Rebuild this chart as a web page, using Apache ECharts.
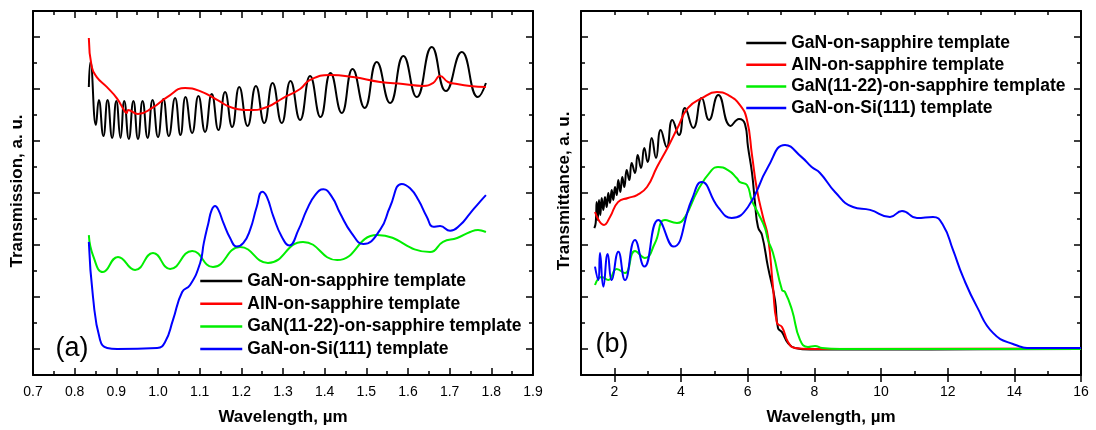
<!DOCTYPE html>
<html>
<head>
<meta charset="utf-8">
<script src="https://cdn.jsdelivr.net/npm/echarts@6/dist/echarts.min.js"></script>
<style>
  html, body { margin: 0; padding: 0; background: #fff; }
  #chart { width: 1096px; height: 430px; }
</style>
</head>
<body>
<div id="chart"></div>
<script>
// ---------- data ----------
const seriesNames = ['GaN-on-sapphire template', 'AlN-on-sapphire template', 'GaN(11-22)-on-sapphire template', 'GaN-on-Si(111) template'];
const seriesColors = ['#000000', '#ff0000', '#00ee00', '#0000ff'];

// panel (a): [wavelength µm, transmission a.u.]
const aGaNSapphire = [[0.834,11.08],[0.838,12.04],[0.851,9.62],[0.858,10.58],[0.869,9.19],[0.879,10.58],[0.890,9.12],[0.900,10.54],[0.910,9.12],[0.919,10.54],[0.930,9.08],[0.941,10.54],[0.952,9.08],[0.963,10.54],[0.975,9.12],[0.987,10.58],[1.000,9.15],[1.013,10.62],[1.026,9.19],[1.041,10.65],[1.054,9.23],[1.066,10.69],[1.082,9.31],[1.097,10.73],[1.113,9.35],[1.129,10.81],[1.145,9.42],[1.161,10.88],[1.178,9.54],[1.195,11.08],[1.215,9.58],[1.235,11.12],[1.255,9.69],[1.275,11.23],[1.297,9.69],[1.318,11.31],[1.341,9.81],[1.365,11.50],[1.390,9.92],[1.414,11.62],[1.441,10.08],[1.467,11.77],[1.496,10.27],[1.525,12.04],[1.557,10.46],[1.589,12.27],[1.621,10.69],[1.657,12.62],[1.691,10.92],[1.729,12.42],[1.768,10.69],[1.787,11.23]];
const aAlNSapphire = [[0.834,12.96],[0.841,11.85],[0.853,11.46],[0.877,11.08],[0.901,10.65],[0.921,10.12],[0.925,10.08],[0.928,10.19],[0.952,10.04],[0.986,10.27],[1.022,10.69],[1.065,11.04],[1.101,10.92],[1.142,10.58],[1.180,10.27],[1.221,10.19],[1.262,10.31],[1.300,10.65],[1.341,11.00],[1.365,11.35],[1.413,11.54],[1.468,11.46],[1.533,11.27],[1.588,11.19],[1.636,11.12],[1.660,11.23],[1.677,11.50],[1.696,11.27],[1.718,11.19],[1.749,11.12],[1.787,11.08]];
const aGaN1122 = [[0.834,5.38],[0.845,4.55],[0.868,3.96],[0.904,4.54],[0.945,4.04],[0.988,4.69],[1.029,4.08],[1.082,4.77],[1.132,4.15],[1.197,4.92],[1.264,4.31],[1.348,5.12],[1.430,4.42],[1.526,5.38],[1.653,4.73],[1.684,5.12],[1.718,5.27],[1.749,5.50],[1.768,5.58],[1.780,5.54],[1.787,5.50]];
const aGaNSi = [[0.834,5.12],[0.844,3.00],[0.861,1.35],[0.878,1.04],[0.902,1.00],[0.998,1.04],[1.017,1.27],[1.036,2.12],[1.058,3.19],[1.077,3.46],[1.101,4.30],[1.110,5.08],[1.121,5.85],[1.129,6.35],[1.137,6.50],[1.145,6.35],[1.157,5.85],[1.173,5.27],[1.189,4.94],[1.205,5.08],[1.221,5.58],[1.237,6.47],[1.250,7.05],[1.261,6.86],[1.277,6.09],[1.297,5.32],[1.315,4.98],[1.337,5.58],[1.357,6.35],[1.377,6.92],[1.397,7.14],[1.417,6.86],[1.437,6.22],[1.465,5.45],[1.493,5.04],[1.533,5.58],[1.557,6.47],[1.585,7.35],[1.605,7.18],[1.625,6.73],[1.645,6.09],[1.661,5.70],[1.677,5.73],[1.701,5.55],[1.725,5.77],[1.749,6.22],[1.773,6.67],[1.787,6.92]];

// panel (b): [wavelength µm, transmittance a.u.]
const bGaNSapphire = [[1.40,5.65],[1.441,5.85],[1.471,6.65],[1.501,5.96],[1.54,6.73],[1.579,6.15],[1.621,6.81],[1.669,6.35],[1.72,6.85],[1.771,6.46],[1.819,7.00],[1.87,6.62],[1.921,7.12],[1.969,6.73],[2.02,7.23],[2.071,6.92],[2.119,7.50],[2.179,7.04],[2.239,7.62],[2.299,7.23],[2.371,7.88],[2.449,7.50],[2.521,8.15],[2.62,7.77],[2.701,8.46],[2.80,7.96],[2.899,8.73],[3.001,8.19],[3.121,9.12],[3.25,8.35],[3.391,9.42],[3.571,8.77],[3.739,9.81],[3.94,9.23],[4.12,10.27],[4.369,9.50],[4.621,10.65],[4.84,9.81],[5.119,10.77],[5.491,9.58],[5.74,9.85],[5.92,9.65],[6.01,8.77],[6.13,7.77],[6.22,6.62],[6.31,5.69],[6.43,5.38],[6.61,4.15],[6.82,2.88],[6.91,1.81],[7.03,1.65],[7.21,1.23],[7.42,1.04],[7.87,0.98],[10,0.98],[13,0.99],[16,1.0]];
const bAlNSapphire = [[1.42,6.27],[1.69,5.77],[1.87,6.08],[2.11,6.65],[2.41,6.81],[2.68,6.92],[2.98,7.23],[3.28,8.00],[3.61,8.77],[3.91,9.54],[4.21,10.27],[4.63,10.65],[5.08,10.88],[5.41,10.77],[5.77,10.38],[5.98,9.81],[6.13,8.46],[6.28,7.12],[6.46,6.08],[6.61,5.31],[6.76,3.38],[6.88,2.00],[7.03,1.85],[7.21,1.27],[7.42,1.04],[7.87,1.0],[16,1.02]];
const bGaN1122 = [[1.42,3.46],[1.62,3.77],[1.82,3.65],[2.07,4.08],[2.32,3.92],[2.62,4.77],[2.92,4.50],[3.22,5.08],[3.52,5.96],[3.88,5.85],[4.12,6.08],[4.51,7.12],[4.92,7.88],[5.11,8.00],[5.41,7.88],[5.67,7.58],[5.77,7.42],[5.98,7.31],[6.12,6.73],[6.31,6.23],[6.52,5.65],[6.61,5.19],[6.76,4.69],[7.03,3.27],[7.12,3.19],[7.33,2.50],[7.57,1.35],[7.81,1.08],[8.02,1.12],[8.23,1.04],[8.77,1.0],[16,1.0]];
const bGaNSi = [[1.42,4.17],[1.52,3.65],[1.57,4.69],[1.67,3.40],[1.80,4.65],[1.92,3.65],[2.12,4.74],[2.32,3.65],[2.62,5.19],[2.90,4.17],[3.32,5.96],[3.77,4.94],[4.32,6.73],[4.62,7.42],[5.11,6.46],[5.52,6.04],[6.01,6.46],[6.61,8.00],[7.12,8.85],[7.62,8.38],[7.92,8.00],[8.17,7.77],[8.62,7.04],[9.16,6.46],[9.67,6.35],[10.27,6.08],[10.63,6.31],[11.08,6.04],[11.56,6.08],[11.86,5.77],[12.16,4.81],[12.46,3.77],[12.88,2.62],[13.36,1.62],[13.96,1.19],[14.56,1.04],[16,1.04]];

// axes / ticks
const aXRange = [0.7, 1.9];
const bXRange = [1, 16];
const bXLabels = [2, 4, 6, 8, 10, 12, 14, 16];
const yRange = [0, 14];
const yMajorTicks = [1, 3, 5, 7, 9, 11, 13];

// ---------- chart ----------
const FONT = '"Liberation Sans", Arial, Helvetica, sans-serif';
const chart = echarts.init(document.getElementById('chart'), null, { renderer: 'canvas' });

const lineAx = { show: true, onZero: false, lineStyle: { color: '#000', width: 2 } };

function xMain(grid, pos, range, showLabels) {
  return {
    type: 'value', gridIndex: grid, position: pos, min: range[0], max: range[1], interval: 0.1,
    axisLine: lineAx,
    axisTick: { show: true, inside: true, length: 7, lineStyle: { color: '#000', width: 1.5 } },
    minorTick: { show: true, splitNumber: 2, length: 4, lineStyle: { color: '#000', width: 1.5 } },
    axisLabel: { show: showLabels, color: '#000', fontSize: 14, fontFamily: FONT, margin: 10,
                 formatter: v => Number(v).toFixed(1) },
    splitLine: { show: false }
  };
}
function xB(pos, showLabels) {
  return [{
    type: 'value', gridIndex: 1, position: pos, min: bXRange[0], max: bXRange[1], interval: 1,
    axisLine: lineAx,
    axisTick: { show: true, inside: true, length: 4, lineStyle: { color: '#000', width: 1.5 } },
    axisLabel: { show: false }, splitLine: { show: false }
  }, {
    type: 'value', gridIndex: 1, position: pos, min: bXRange[0], max: bXRange[1],
    axisLine: { show: false },
    axisTick: { show: true, inside: true, length: 7, customValues: bXLabels, lineStyle: { color: '#000', width: 1.5 } },
    axisLabel: { show: showLabels, customValues: bXLabels, color: '#000', fontSize: 14, fontFamily: FONT, margin: 10 },
    splitLine: { show: false }
  }];
}
function yAx(grid, pos) {
  return [{
    type: 'value', gridIndex: grid, position: pos, min: yRange[0], max: yRange[1], interval: 1,
    axisLine: lineAx,
    axisTick: { show: true, inside: true, length: 4, lineStyle: { color: '#000', width: 1.5 } },
    axisLabel: { show: false }, splitLine: { show: false }
  }, {
    type: 'value', gridIndex: grid, position: pos, min: yRange[0], max: yRange[1],
    axisLine: { show: false },
    axisTick: { show: true, inside: true, length: 7, customValues: yMajorTicks, lineStyle: { color: '#000', width: 1.5 } },
    axisLabel: { show: false }, splitLine: { show: false }
  }];
}

const xAxes = [xMain(0, 'bottom', aXRange, true), xMain(0, 'top', aXRange, false)]
  .concat(xB('bottom', true), xB('top', false));
const yAxes = [].concat(yAx(0, 'left'), yAx(0, 'right'), yAx(1, 'left'), yAx(1, 'right'));

const aData = [aGaNSapphire, aAlNSapphire, aGaN1122, aGaNSi];
const bData = [bGaNSapphire, bAlNSapphire, bGaN1122, bGaNSi];
const series = [];
aData.forEach((d, i) => series.push({
  type: 'line', name: seriesNames[i], xAxisIndex: 0, yAxisIndex: 0, data: d,
  showSymbol: false, symbol: 'none', smooth: 0.5, lineStyle: { color: seriesColors[i], width: 2 },
  itemStyle: { color: seriesColors[i] }
}));
bData.forEach((d, i) => series.push({
  type: 'line', name: seriesNames[i], xAxisIndex: 2, yAxisIndex: 4, data: d,
  showSymbol: false, symbol: 'none', smooth: 0.5, lineStyle: { color: seriesColors[i], width: 2 },
  itemStyle: { color: seriesColors[i] }
}));

const legendText = { fontFamily: FONT, fontSize: 17.5, fontWeight: 'bold', color: '#000', lineHeight: 18 };
const legendBase = { data: seriesNames, orient: 'vertical', padding: 0, itemHeight: 14,
  textStyle: legendText, selectedMode: false,
  itemStyle: { opacity: 0, borderWidth: 0 }, lineStyle: { width: 2.5 } };

const titleStyle = (text, x, y, rot, size, weight) => ({
  type: 'text', x: x, y: y, rotation: rot || 0,
  style: { text: text, fill: '#000', font: (weight || 'bold') + ' ' + (size || 17) + 'px ' + FONT,
           textAlign: 'center', textVerticalAlign: 'middle', align: 'center', verticalAlign: 'middle' }
});

chart.setOption({
  animation: false,
  backgroundColor: '#fff',
  grid: [
    { left: 33, top: 11, width: 500, height: 364 },
    { left: 581, top: 11, width: 500, height: 364 }
  ],
  xAxis: xAxes,
  yAxis: yAxes,
  legend: [
    Object.assign({}, legendBase, { left: 199, top: 272, itemWidth: 42, itemGap: 4.7 }),
    Object.assign({}, legendBase, { left: 745, top: 34, itemWidth: 40, itemGap: 3.7 })
  ],
  graphic: [
    titleStyle('Wavelength, µm', 283, 417),
    titleStyle('Wavelength, µm', 831, 417),
    titleStyle('Transmission, a. u.', 17, 191, Math.PI / 2),
    titleStyle('Transmittance, a. u.', 564, 191, Math.PI / 2),
    titleStyle('(a)', 72, 349, 0, 27, 'normal'),
    titleStyle('(b)', 612, 345, 0, 27, 'normal')
  ],
  series: series
});
</script>
</body>
</html>
